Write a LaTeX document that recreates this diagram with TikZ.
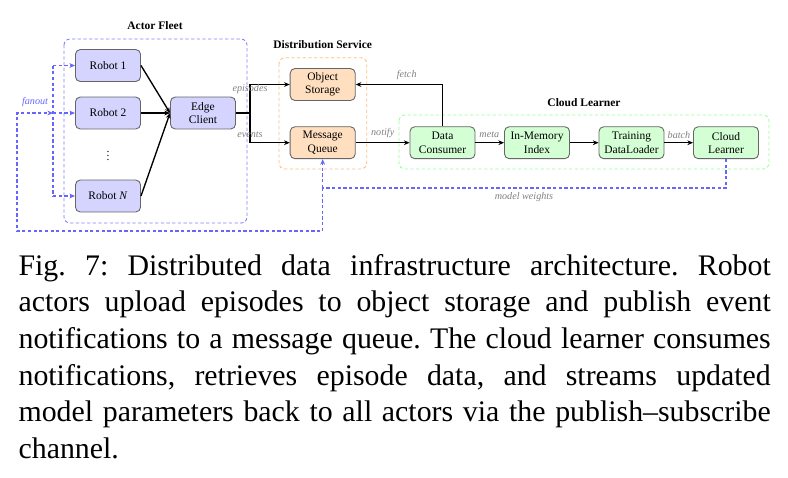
\documentclass[tikz,border=0pt]{standalone}
\usepackage{fontspec}
\setmainfont{Liberation Serif}
\usetikzlibrary{arrows.meta}
\newcommand{\nodefont}{\fontsize{3.85}{4.45}\selectfont}
\newcommand{\lblfont}{\fontsize{3.4}{4}\selectfont\itshape}
\newcommand{\smallvdots}{\vbox{\baselineskip=1.45pt\lineskiplimit=-10pt\hbox{.}\hbox{.}\hbox{.}}}
\begin{document}
\begin{tikzpicture}[x=0.33503pt,y=-0.33503pt,
  box/.style={draw=black!60, line width=0.3pt, rounded corners=1.6pt, minimum width=21.8pt, minimum height=10.7pt, inner sep=0.5pt, align=center, font=\nodefont},
  robotbox/.style={box, fill=blue!17},
  distbox/.style={box, fill=orange!25},
  learnbox/.style={box, fill=green!17},
  groupbox/.style={dashed, dash pattern=on 1.1pt off 0.8pt, line width=0.3pt, rounded corners=2pt},
  grouptitle/.style={font=\nodefont\bfseries, inner sep=0pt},
  arr/.style={-{Stealth[length=1.9pt,width=1.6pt]}, line width=0.45pt},
  warr/.style={-{Stealth[length=1.9pt,width=1.6pt]}, blue!60, line width=0.45pt, dashed, dash pattern=on 1.1pt off 0.8pt},
  wline/.style={blue!60, line width=0.45pt, dashed, dash pattern=on 1.1pt off 0.8pt},
  lbl/.style={font=\lblfont, text=black!50, inner sep=0pt},
]
\useasboundingbox (0,0) rectangle (788,477);

% group boxes
\draw[groupbox, draw=blue!50] (64,39) rectangle (247,223);
\draw[groupbox, draw=orange!50] (279,57.7) rectangle (366.7,169);
\draw[groupbox, draw=green!40] (399,115) rectangle (769,169);
\node[grouptitle] (tfleet) at (155,26) {Actor Fleet};
\node[grouptitle] (tdist) at (322.7,45) {Distribution Service};
\node[grouptitle] (tlearn) at (584,103) {Cloud Learner};

% nodes
\node[robotbox] (r1) at (108,65.5) {Robot 1};
\node[robotbox] (r2) at (108,113) {Robot 2};
\node[font=\nodefont, inner sep=0pt] (dots) at (108,156) {\smallvdots};
\node[robotbox] (rN) at (108,196) {Robot \textit{N}};
\node[robotbox] (edge) at (203,113) {Edge\\Client};
\node[distbox] (obj) at (322.7,84.5) {Object\\Storage};
\node[distbox] (mq) at (322.7,142.7) {Message\\Queue};
\node[learnbox] (dc) at (442.5,142.7) {Data\\Consumer};
\node[learnbox] (idx) at (537,142.7) {In-Memory\\Index};
\node[learnbox] (tdl) at (631.5,142.7) {Training\\DataLoader};
\node[learnbox] (cl) at (726,142.7) {Cloud\\Learner};

% fleet -> edge
\draw[arr] (r1.east) -- (edge.west);
\draw[arr] (r2.east) -- (edge.west);
\draw[arr] (rN.east) -- (edge.west);

% edge -> distribution
\coordinate (split) at (250,113);
\draw[line width=0.45pt] (edge.east) -- (split);
\draw[arr] (split) |- (obj.west);
\draw[arr] (split) |- (mq.west);
\node[lbl] (lep) at (250,89) {episodes};
\node[lbl] (lev) at (250,135) {events};

% distribution -> learner
\draw[arr] (mq.east) -- (dc.west);
\node[lbl] (lno) at (382.7,133.5) {notify};
\draw[arr] (dc.north) |- (obj.east);
\node[lbl] (lfe) at (406.7,75) {fetch};
\draw[arr] (dc.east) -- (idx.west);
\node[lbl] (lme) at (489.3,135) {meta};
\draw[arr] (idx.east) -- (tdl.west);
\draw[arr] (tdl.east) -- (cl.west);
\node[lbl] (lba) at (679,135) {batch};

% model weights
\coordinate (wj) at (322.7,188);
\draw[wline] (cl.south) |- (wj);
\draw[warr] (wj) -- (mq.south);
\node[lbl] (lmw) at (524,197) {model weights};
\coordinate (wb) at (322.7,231);
\coordinate (wl) at (17,231);
\coordinate (wu) at (17,113);
\coordinate (fan) at (53,113);
\draw[warr] (wj) -- (wb) -- (wl) -- (wu) -- (fan);
\draw[warr] (fan) -- (r2.west);
\coordinate (fan1) at (53,65.5);
\coordinate (fanN) at (53,196);
\draw[wline] (fan1) -- (fanN);
\draw[warr] (fan1) -- (r1.west);
\draw[warr] (fanN) -- (rN.west);
\node[font=\lblfont, text=blue!60, inner sep=0pt] (lfan) at (35,102) {fanout};

% caption
\node[anchor=base west, inner sep=0pt] (cap) at (18,275) {\parbox[t]{252pt}{\fontsize{10}{12.3}\selectfont\frenchspacing Fig.~7: Distributed data infrastructure architecture. Robot\linebreak actors upload episodes to object storage and publish event\linebreak notifications to a message queue. The cloud learner consumes\linebreak notifications, retrieves episode data, and streams updated\linebreak model parameters back to all actors via the publish--subscribe\linebreak channel.}};
\end{tikzpicture}
\end{document}
